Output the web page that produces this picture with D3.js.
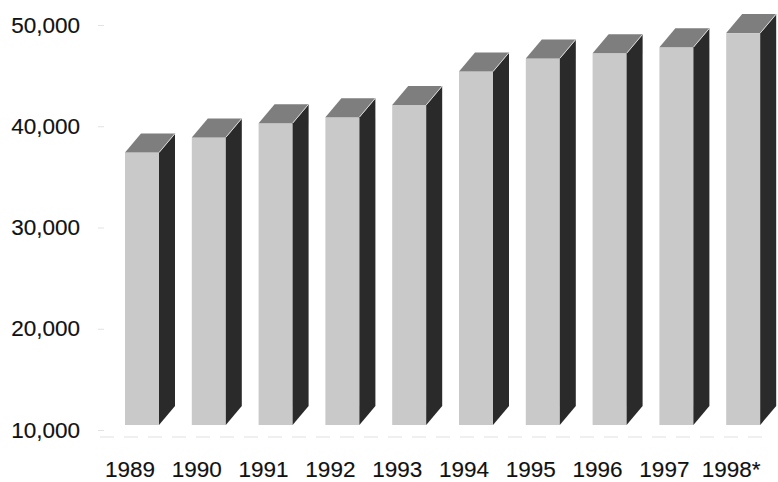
<!DOCTYPE html>
<html>
<head>
<meta charset="utf-8">
<script src="https://cdn.jsdelivr.net/npm/d3@7"></script>
<style>
  body { margin: 0; background: #fff; }
  text { font-family: "Liberation Sans", Arial, Helvetica, sans-serif; fill: #111; stroke: #111; stroke-width: 0.15px; }
</style>
</head>
<body>
<div id="chart"></div>
<script>
// data
var years = ["1989", "1990", "1991", "1992", "1993", "1994", "1995", "1996", "1997", "1998*"];
var values = [37400, 38900, 40300, 40900, 42100, 45400, 46700, 47200, 47800, 49200];
var yTicks = [10000, 20000, 30000, 40000, 50000];

var Width = 778;
var Height = 482;

// 3d depth of each bar
var depthX = 16;
var depthY = 19;
var barW = 34;

var svg = d3.select("#chart")
  .append("svg")
  .attr("width", Width)
  .attr("height", Height);

var x = d3.scaleBand()
  .domain(years)
  .range([96.6, 764.6]);

var y = d3.scaleLinear()
  .domain([10000, 50000])
  .range([430, 25]);

var base = y(10000) - 5;

// faint floor line
svg.append("line")
  .attr("x1", 100).attr("x2", 770)
  .attr("y1", y(10000) + 7).attr("y2", y(10000) + 7)
  .attr("stroke", "#ebebeb")
  .attr("stroke-width", 1.5)
  .attr("stroke-dasharray", "14,10");

// y axis labels
var yAxis = d3.axisLeft(y)
  .tickValues(yTicks)
  .tickSize(6)
  .tickPadding(18)
  .tickFormat(d3.format(","));

var gy = svg.append("g")
  .attr("transform", "translate(104,0)")
  .call(yAxis);
gy.select(".domain").remove();
gy.selectAll(".tick line").attr("stroke", "#e2e2e2");
gy.selectAll(".tick text")
  .style("font-size", "22.5px")
  .attr("fill", "#111");

// bars
var bars = svg.selectAll("g.bar")
  .data(values)
  .enter()
  .append("g")
  .attr("class", "bar");

function frontX(i) { return x(years[i]) + 28.4; }

bars.append("rect")
  .attr("x", function(d, i) { return frontX(i); })
  .attr("y", function(d) { return y(d); })
  .attr("width", barW)
  .attr("height", function(d) { return base - y(d); })
  .attr("fill", "#c9c9c9");

// dark side
bars.append("polygon")
  .attr("points", function(d, i) {
    var x1 = frontX(i) + barW, t = y(d);
    return [[x1, t], [x1 + depthX, t - depthY], [x1 + depthX, base - depthY], [x1, base]].join(" ");
  })
  .attr("fill", "#2a2a2a");

// top face
bars.append("polygon")
  .attr("points", function(d, i) {
    var x0 = frontX(i), x1 = x0 + barW, t = y(d);
    return [[x0, t], [x0 + depthX, t - depthY], [x1 + depthX, t - depthY], [x1, t]].join(" ");
  })
  .attr("fill", "#7e7e7e");

// thin highlight along the top-right edge
bars.append("line")
  .attr("x1", function(d, i) { return frontX(i) + barW; })
  .attr("y1", function(d) { return y(d); })
  .attr("x2", function(d, i) { return frontX(i) + barW + depthX; })
  .attr("y2", function(d) { return y(d) - depthY; })
  .attr("stroke", "#d8d8d8")
  .attr("stroke-width", 1);

// x labels
svg.selectAll("text.year")
  .data(years)
  .enter()
  .append("text")
  .attr("class", "year")
  .attr("x", function(d) { return x(d) + x.bandwidth() / 2; })
  .attr("y", 477)
  .attr("text-anchor", "middle")
  .style("font-size", "22.5px")
  .text(function(d) { return d; });
</script>
</body>
</html>
